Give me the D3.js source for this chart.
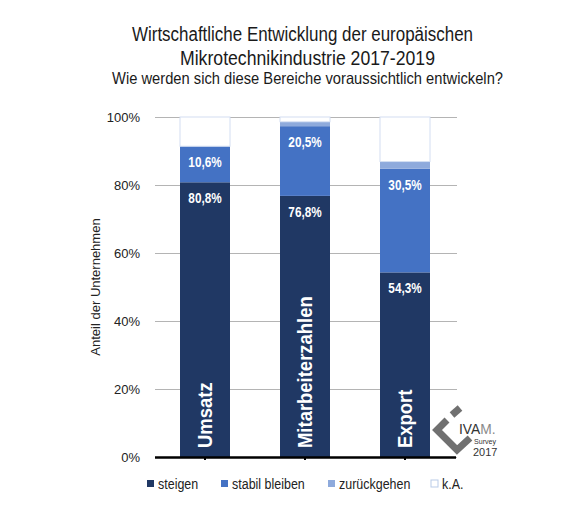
<!DOCTYPE html>
<html lang="de">
<head>
  <meta charset="UTF-8">
  <title>Mikrotechnik 2017-2019</title>
  <script src="https://d3js.org/d3.v7.min.js"></script>
  <style>
    * { margin: 0; padding: 0; box-sizing: border-box; }
    body { background: #fff; font-family: "Liberation Sans", Arial, sans-serif; }
  </style>
</head>
<body>
  <div id="chart"></div>
  <script>
    // data (percent)
    const categories = ["Umsatz", "Mitarbeiterzahlen", "Export"];
    const seriesNames = ["steigen", "stabil bleiben", "zurückgehen", "k.A."];
    const steigen = [80.8, 76.8, 54.3];
    const stabil = [10.6, 20.5, 30.5];
    const zurueck = [0, 1.3, 2.1];
    const keineAngabe = [8.6, 1.4, 13.1];
    const yTicks = [0, 20, 40, 60, 80, 100];

    const colors = ["#203864", "#4472c4", "#8eaadc", "#ffffff"];

    const W = 580, H = 519;
    const svg = d3.select("#chart").append("svg")
      .attr("width", W).attr("height", H);

    const de = d3.formatLocale({decimal: ",", thousands: ".", grouping: [3], currency: ["", "€"]});
    const fmt = de.format(".1f");

    // the original uses a condensed face, so squeeze text horizontally
    const narrow = (px, py, s, rot) =>
      `translate(${px},${py})` + (rot ? ` rotate(${rot})` : "") + ` scale(${s},1)`;

    const table = categories.map((c, i) => ({
      cat: c,
      "steigen": steigen[i],
      "stabil bleiben": stabil[i],
      "zurückgehen": zurueck[i],
      "k.A.": keineAngabe[i]
    }));
    const stack = d3.stack().keys(seriesNames)(table);

    const x = d3.scaleBand().domain(categories)
      .range([155, 455]).paddingInner(0.5).paddingOuter(0.25);
    const y = d3.scaleLinear().domain([0, 100]).range([457, 117]);
    const color = d3.scaleOrdinal().domain(seriesNames).range(colors);

    // titles
    const title = svg.append("g").attr("text-anchor", "middle").attr("fill", "#1a1a1a");
    title.append("text").attr("x", 302.5).attr("y", 41).style("font-size", "19.5px")
      .attr("textLength", 341).attr("lengthAdjust", "spacingAndGlyphs")
      .text("Wirtschaftliche Entwicklung der europäischen");
    title.append("text").attr("x", 307.5).attr("y", 65).style("font-size", "19.5px")
      .attr("textLength", 255).attr("lengthAdjust", "spacingAndGlyphs")
      .text("Mikrotechnikindustrie 2017-2019");
    title.append("text").attr("x", 307.5).attr("y", 84).style("font-size", "16.5px")
      .attr("textLength", 391).attr("lengthAdjust", "spacingAndGlyphs")
      .text("Wie werden sich diese Bereiche voraussichtlich entwickeln?");

    // grid
    svg.append("g")
      .attr("transform", "translate(155,0)")
      .call(d3.axisLeft(y).tickValues(yTicks).tickSize(-302).tickFormat(""))
      .call(g => g.select(".domain").remove())
      .selectAll("line").attr("stroke", "#b4b4b4");

    // y tick labels
    svg.append("g").selectAll("text")
      .data(yTicks).join("text")
      .attr("x", 140).attr("y", d => y(d) + 4.5)
      .attr("text-anchor", "end")
      .style("font-size", "13px").attr("fill", "#222")
      .text(d => d + "%");

    svg.append("text")
      .attr("transform", `translate(100,${(y(0) + y(100)) / 2}) rotate(-90)`)
      .attr("text-anchor", "middle")
      .style("font-size", "13px").attr("fill", "#222")
      .text("Anteil der Unternehmen");

    // bars
    svg.append("g").selectAll("g")
      .data(stack).join("g")
      .attr("fill", d => color(d.key))
      .attr("stroke", d => d.key === "k.A." ? "#d3def2" : "none")
      .selectAll("rect")
      .data(d => d).join("rect")
      .attr("x", d => x(d.data.cat))
      .attr("y", d => y(d[1]))
      .attr("width", x.bandwidth())
      .attr("height", d => y(d[0]) - y(d[1]));

    // value labels for steigen and stabil bleiben
    const labelled = stack.filter(s => s.key === "steigen" || s.key === "stabil bleiben");
    svg.append("g")
      .selectAll("g").data(labelled).join("g")
      .selectAll("text").data(d => d).join("text")
      .attr("transform", d => narrow(x(d.data.cat) + x.bandwidth() / 2, y(d[1]) + 21, 0.84))
      .attr("text-anchor", "middle")
      .attr("fill", "#fff")
      .style("font-size", "14px").style("font-weight", "bold")
      .text(d => fmt(d[1] - d[0]) + "%");

    // category names inside bars
    svg.append("g")
      .selectAll("text").data(categories).join("text")
      .attr("transform", d => narrow(x(d) + x.bandwidth() / 2 + 7, 448, 0.9, -90))
      .attr("fill", "#fff")
      .style("font-size", "20.5px").style("font-weight", "bold")
      .text(d => d);

    // x axis
    svg.append("g")
      .attr("transform", `translate(0,${y(0)})`)
      .call(d3.axisBottom(x).tickSize(3).tickFormat("").tickSizeOuter(0))
      .call(g => g.select(".domain").attr("stroke", "#000").attr("stroke-width", 2.5)
        .attr("d", "M155,0.5H456"))
      .call(g => g.selectAll(".tick line").attr("stroke", "#000").attr("stroke-width", 2));

    // legend
    const legX = [147, 221, 328, 431];
    const legend = svg.append("g")
      .selectAll("g").data(seriesNames).join("g")
      .attr("transform", (d, i) => `translate(${legX[i]},484)`);
    legend.append("rect")
      .attr("x", 0).attr("y", -4).attr("width", 7).attr("height", 7)
      .attr("fill", d => color(d))
      .attr("stroke", d => d === "k.A." ? "#b9cbe8" : "none");
    legend.append("text")
      .attr("transform", narrow(11, 5, 0.86))
      .style("font-size", "14.5px").attr("fill", "#222")
      .text(d => d);

    // IVAM logo
    const logo = svg.append("g").attr("fill", "none").attr("stroke", "#707070")
      .attr("stroke-width", 7).attr("stroke-linejoin", "miter");
    logo.append("path").attr("d", "M452,415 L460,408");
    logo.append("path").attr("d", "M447,420 L437,430 L457,450 L470,438");
    const iv = svg.append("text")
      .attr("transform", narrow(459, 434, 0.92)).style("font-size", "15px");
    iv.append("tspan").attr("fill", "#333").text("IVA");
    iv.append("tspan").attr("fill", "#8a8a8a").text("M.");
    svg.append("text").attr("transform", narrow(474, 444, 0.95))
      .style("font-size", "7.5px").attr("fill", "#333").text("Survey");
    svg.append("text").attr("transform", narrow(473, 456, 0.95))
      .style("font-size", "11.5px").attr("fill", "#333").text("2017");
  </script>
</body>
</html>
